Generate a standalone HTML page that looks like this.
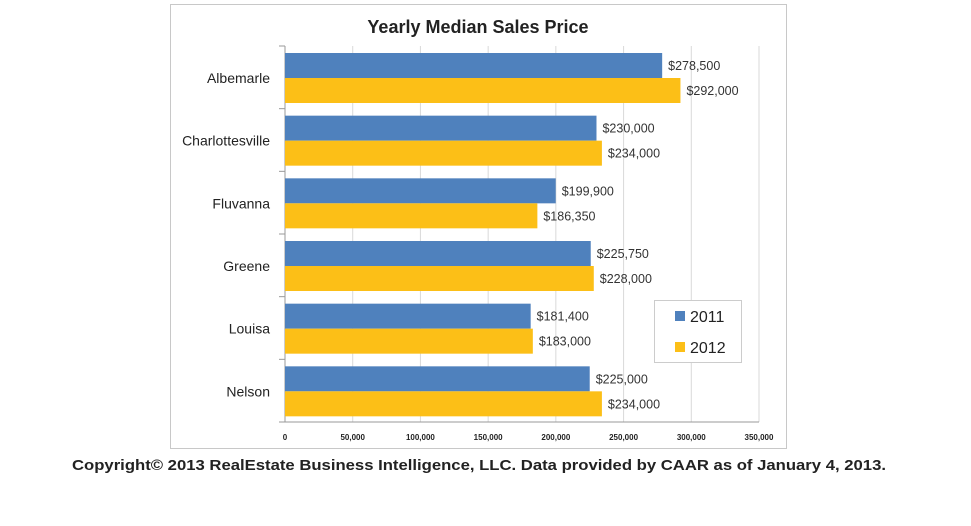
<!DOCTYPE html>
<html><head><meta charset="utf-8"><style>
body{margin:0;background:#fff;width:971px;height:521px;overflow:hidden;font-family:"Liberation Sans",sans-serif}
svg text{font-family:"Liberation Sans",sans-serif}
</style></head><body>
<svg width="971" height="521">
<rect x="170.5" y="4.5" width="616" height="444" fill="#fff" stroke="#c8c8c8"/>
<text x="478" y="33" text-anchor="middle" font-size="18" font-weight="bold" fill="#222">Yearly Median Sales Price</text>
<g id="plot"></g>
<g>
<rect x="654.5" y="300.5" width="87" height="62" fill="#fff" stroke="#ccc"/>
<rect x="675" y="311" width="10" height="10" fill="#4f81bd"/>
<text x="690" y="322" font-size="16" fill="#222">2011</text>
<rect x="675" y="342" width="10" height="10" fill="#fcbf17"/>
<text x="690" y="353" font-size="16" fill="#222">2012</text>
</g>
<text x="72" y="470" font-size="15" font-weight="bold" fill="#222" textLength="814" lengthAdjust="spacingAndGlyphs">Copyright© 2013 RealEstate Business Intelligence, LLC.  Data provided by CAAR as of January 4, 2013.</text>
</svg>
<script>
const categories=["Albemarle","Charlottesville","Fluvanna","Greene","Louisa","Nelson"];
const values2011=[278500,230000,199900,225750,181400,225000];
const values2012=[292000,234000,186350,228000,183000,234000];
const labels2011=["$278,500","$230,000","$199,900","$225,750","$181,400","$225,000"];
const labels2012=["$292,000","$234,000","$186,350","$228,000","$183,000","$234,000"];
const ticks=[0,50000,100000,150000,200000,250000,300000,350000];
const tickLabels=["0","50,000","100,000","150,000","200,000","250,000","300,000","350,000"];
const NS="http://www.w3.org/2000/svg";
const g=document.getElementById('plot');
const x0=285,x1=759,yTop=46,yBot=422,maxV=350000;
const xs=v=>x0+(x1-x0)*v/maxV;
const band=(yBot-yTop)/categories.length;
function mk(t,a){const e=document.createElementNS(NS,t);for(const k in a)e.setAttribute(k,a[k]);g.appendChild(e);return e;}
ticks.forEach((t,i)=>{
  const l=mk('line',{x1:xs(t),x2:xs(t),y1:yTop,y2:yBot,stroke:i?'#d9d9d9':'#999'});
  
  
  const tx=mk('text',{x:xs(t),y:yBot+18,'text-anchor':'middle','font-size':'8','font-weight':'bold',fill:'#222'});
  tx.textContent=tickLabels[i];
  
  
});
mk('line',{x1:x0-6,x2:x1,y1:yBot,y2:yBot,stroke:'#999'});
for(let i=0;i<=categories.length;i++)mk('line',{x1:x0-6,x2:x0,y1:yTop+band*i,y2:yTop+band*i,stroke:'#999'});
categories.forEach((c,i)=>{
  const top=yTop+band*i+7, bh=25;
  const b1=mk('rect',{x:x0,y:top,width:xs(values2011[i])-x0,height:bh,fill:'#4f81bd'});
  
  
  const b2=mk('rect',{x:x0,y:top+bh,width:xs(values2012[i])-x0,height:bh,fill:'#fcbf17'});
  
  
  const t1=mk('text',{x:xs(values2011[i])+6,y:top+17,'font-size':'12.5',fill:'#333'});
  t1.textContent=labels2011[i];
  
  
  const t2=mk('text',{x:xs(values2012[i])+6,y:top+bh+17,'font-size':'12.5',fill:'#333'});
  t2.textContent=labels2012[i];
  
  
  const cl=mk('text',{x:270,y:top+bh+5,'text-anchor':'end','font-size':'14',fill:'#222'});
  cl.textContent=c;
  
  
});
</script>
</body></html>
